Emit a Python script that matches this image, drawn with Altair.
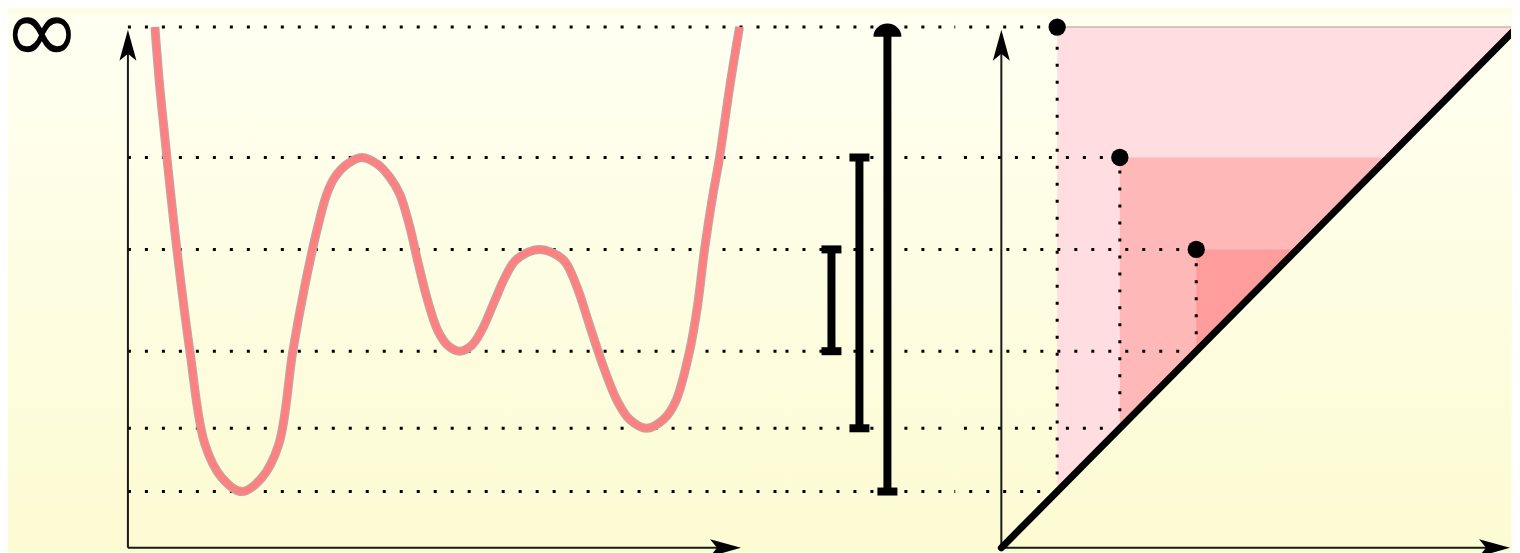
import altair as alt
import pandas as pd

# ---------------- values ----------------
INF = 527                                    # height at which "infinity" is drawn
levels = [527, 395, 302, 199, 121, 57]       # dotted levels (height above the axis)
births = [57, 121, 199]                      # minima where a component is born
deaths = [INF, 395, 302]                     # maxima where it dies (∞ for the global min)
bar_rank = [3, 2, 1]                         # position of each bar in the barcode

curve_t = [27, 32, 39, 49, 62, 77, 94, 114, 134, 151, 165, 177, 190, 199, 207, 219,
           234, 250, 262, 272, 282, 290, 300, 310, 320, 332, 344, 354, 367, 377, 387,
           400, 412, 424, 437, 449, 462, 477, 490, 502, 519, 536, 548, 562, 570, 577,
           585, 592, 602, 612]
curve_f = [527, 465, 395, 302, 199, 105, 71, 57, 71, 105, 199, 265, 325, 358, 375, 388,
           395, 388, 375, 358, 325, 290, 250, 220, 205, 199, 205, 220, 250, 273, 290,
           299, 302, 299, 290, 265, 225, 180, 148, 130, 121, 130, 148, 199, 245, 302,
           355, 395, 465, 527]

# ---------------- layout ----------------
W1, W2, W3, H = 778, 169, 557, 537
ysc = alt.Scale(domain=[-4, 539], nice=False, zero=False)
x1sc = alt.Scale(domain=[-120, 658], nice=False, zero=False)
x2sc = alt.Scale(domain=[-0.643, 5.393], nice=False, zero=False)
x3sc = alt.Scale(domain=[-47.96, 520.41], nice=False, zero=False)

grad = alt.LinearGradient(
    gradient="linear",
    stops=[alt.GradientStop(color="#fffff2", offset=0),
           alt.GradientStop(color="#fcfbd2", offset=1)],
    x1=0, x2=0, y1=0, y2=1)

DOT = dict(color="black", strokeWidth=3, strokeDash=[3, 14])
AXC = "#1a1a1a"
ARROW = "M0,-1 L0.55,1 L0,0.55 L-0.55,1 Z"
one = alt.Data(values=[{}])


def background(w):
    return alt.Chart(one).mark_rect(fill=grad, strokeWidth=0).encode(
        x=alt.value(0), x2=alt.value(w), y=alt.value(0), y2=alt.value(H))


def Y(field, **kw):
    return alt.Y(field, scale=ysc, axis=None, **kw)


lv = pd.DataFrame({"v": levels})
curve = pd.DataFrame({"t": curve_t, "f": curve_f})
pairs = pd.DataFrame({"b": births, "d": deaths, "k": bar_rank})

# ---------------- panel 1 : the function ----------------
X1 = lambda f: alt.X(f, scale=x1sc, axis=None)
p1_dots = alt.Chart(lv).mark_rule(**DOT).encode(
    x=alt.X(datum=0, scale=x1sc, axis=None), x2=alt.value(W1), y=Y("v:Q"))
axes1 = pd.DataFrame({"x": [0, 0], "y": [0, 0], "x2": [0, 598], "y2": [508.5, 0],
                      "ang": [0, 90]})
p1_axes = alt.Chart(axes1).mark_rule(color=AXC, strokeWidth=2).encode(
    x=X1("x:Q"), y=Y("y:Q"), x2="x2:Q", y2="y2:Q")
p1_arrows = alt.Chart(axes1).mark_point(shape=ARROW, filled=True, size=961,
                                        color="black", opacity=1).encode(
    x=X1("x2:Q"), y=Y("y2:Q"), angle=alt.Angle("ang:Q", scale=None))
p1_outline = alt.Chart(curve).mark_line(interpolate="catmull-rom", strokeWidth=9,
                                        color="#c4a2a2").encode(x=X1("t:Q"), y=Y("f:Q"))
p1_line = alt.Chart(curve).mark_line(interpolate="catmull-rom", strokeWidth=6.5,
                                     color="#ff8080").encode(x=X1("t:Q"), y=Y("f:Q"))
p1_inf = alt.Chart(one).mark_text(text="∞", font="DejaVu Sans", fontSize=94, clip=True,
                                  color="black", align="center", baseline="middle").encode(
    x=alt.X(datum=-86, scale=x1sc, axis=None), y=alt.Y(datum=519, scale=ysc, axis=None))

panel1 = alt.layer(background(W1), p1_dots, p1_axes, p1_arrows, p1_outline, p1_line,
                   p1_inf).properties(width=W1, height=H)

# ---------------- panel 2 : the barcode ----------------
X2 = lambda f: alt.X(f, scale=x2sc, axis=None)
p2_dots = alt.Chart(lv).mark_rule(**DOT).encode(
    x=alt.value(0), x2=alt.value(W2), y=Y("v:Q"))
p2_bars = alt.Chart(pairs).mark_rule(color="black", strokeWidth=8).encode(
    x=X2("k:Q"), y=Y("b:Q"), y2="d:Q")
caps = pd.concat([pairs[["k", "b"]].rename(columns={"b": "v"}),
                  pairs[pairs.d < INF][["k", "d"]].rename(columns={"d": "v"})])
p2_caps = alt.Chart(caps).mark_tick(color="black", orient="horizontal", size=20,
                                    thickness=8, opacity=1).encode(x=X2("k:Q"), y=Y("v:Q"))
p2_dome = alt.Chart(pairs[pairs.d == INF]).mark_point(
    shape="M-1,0.7 A1,0.95 0 0 1 1,0.7 Z", filled=True, size=784, color="black",
    opacity=1).encode(x=X2("k:Q"), y=Y("d:Q"))

panel2 = alt.layer(background(W2), p2_dots, p2_bars, p2_caps, p2_dome).properties(
    width=W2, height=H)

# ---------------- panel 3 : the persistence diagram ----------------
X3 = lambda f: alt.X(f, scale=x3sc, axis=None)
rows = []
for b, d in zip(births, deaths):
    rows.append({"b": b, "x": b, "lo": b, "hi": d})
    rows.append({"b": b, "x": d, "lo": d, "hi": d})
tri = pd.DataFrame(rows)
pinks = {57: "#ffdde0", 121: "#ffb8b8", 199: "#ff9c9c"}
p3_tris = [alt.Chart(tri[tri.b == b]).mark_area(color=c, opacity=1, clip=True).encode(
    x=X3("x:Q"), y=Y("lo:Q", stack=None), y2="hi:Q") for b, c in pinks.items()]
p3_top = alt.Chart(pairs[pairs.d == INF]).mark_rule(color="#c2baa8", strokeWidth=1.5).encode(
    x=X3("b:Q"), x2=alt.value(W3), y=Y("d:Q"))
hrows = []
for b, d in zip(births, deaths):
    hrows.append({"v": d, "end": b})
    hrows.append({"v": b, "end": b})
p3_hdots = alt.Chart(pd.DataFrame(hrows)).mark_rule(**DOT).encode(
    x=X3("end:Q"), x2=alt.value(0), y=Y("v:Q"))
p3_vdots = alt.Chart(pairs).mark_rule(**DOT).encode(x=X3("b:Q"), y=Y("b:Q"), y2="d:Q")
axes3 = pd.DataFrame({"x": [0, 0], "y": [0, 0], "x2": [0, 503.6], "y2": [508.5, 0],
                      "ang": [0, 90]})
p3_axes = alt.Chart(axes3).mark_rule(color=AXC, strokeWidth=2).encode(
    x=X3("x:Q"), y=Y("y:Q"), x2="x2:Q", y2="y2:Q")
p3_arrows = alt.Chart(axes3).mark_point(shape=ARROW, filled=True, size=961,
                                        color="black", opacity=1).encode(
    x=X3("x2:Q"), y=Y("y2:Q"), angle=alt.Angle("ang:Q", scale=None))
diag = pd.DataFrame({"a": [0], "z": [INF]})
p3_diag = alt.Chart(diag).mark_rule(color="black", strokeWidth=7, strokeCap="round",
                                    clip=True).encode(
    x=X3("a:Q"), y=Y("a:Q"), x2="z:Q", y2="z:Q")
p3_pts = alt.Chart(pairs).mark_circle(color="black", size=300, opacity=1).encode(
    x=X3("b:Q"), y=Y("d:Q"))

panel3 = alt.layer(background(W3), *p3_tris, p3_top, p3_hdots, p3_vdots, p3_axes,
                   p3_arrows, p3_diag, p3_pts).properties(width=W3, height=H)

chart = alt.hconcat(panel1, panel2, panel3, spacing=0, bounds="flush").properties(
    padding=0, background="#fefee6").configure_view(stroke=None)

chart.save("out.html", embed_options={"renderer": "svg", "actions": False})
